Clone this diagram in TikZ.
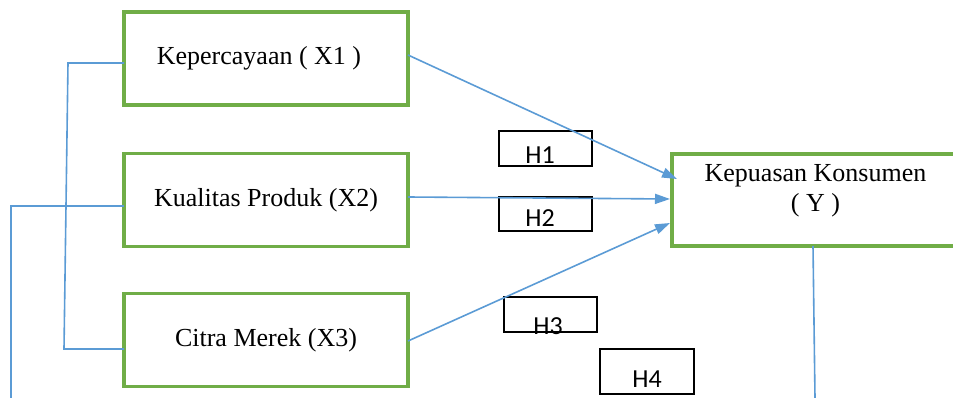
\documentclass[tikz,border=0pt]{standalone}
\usepackage{fontspec}
\setmainfont{Liberation Serif}
\newfontfamily\hfont{Carlito}
\usetikzlibrary{arrows.meta,calc}
\definecolor{boxgreen}{HTML}{70AD47}
\definecolor{lineblue}{HTML}{5B9BD5}
\begin{document}
\begin{tikzpicture}[x=1pt,y=-1pt,
  varbox/.style={draw=boxgreen,line width=3.2pt,inner sep=0pt,outer sep=0pt,minimum width=284pt,minimum height=93pt,font=\fontsize{26}{31}\selectfont},
  hbox/.style={draw=black,line width=1.8pt,inner sep=0pt,outer sep=0pt,minimum width=93pt,minimum height=35pt},
  htext/.style={font=\hfont\fontsize{26}{31}\selectfont,anchor=base,inner sep=0pt},
  conn/.style={draw=lineblue,line width=1.6pt},
  arr/.style={conn,-{Triangle[length=15pt,width=10pt]}}]
\useasboundingbox (0,0) rectangle (953,398);
\clip (0,0) rectangle (953,398);
% variable boxes
\node[varbox] (x1) at (266,58.5) {\hspace{-14pt}Kepercayaan ( X1 )};
\node[varbox] (x2) at (266,200) {Kualitas Produk (X2)};
\node[varbox] (x3) at (266,340) {Citra Merek (X3)};
\node[varbox,minimum width=287pt,minimum height=92pt] (y) at (815.5,200) {};
\node[font=\fontsize{26}{31}\selectfont,align=center,anchor=base] (ytext) at (815.5,212) {Kepuasan Konsumen\\( Y )};
% hypothesis boxes
\node[hbox] (h1) at (545.5,148.5) {};
\node[htext] (h1t) at (540,164) {H1};
\node[hbox,minimum height=34pt] (h2) at (545.5,214) {};
\node[htext] (h2t) at (540,227) {H2};
\node[hbox] (h3) at (550.5,314.5) {};
\node[htext] (h3t) at (548,334) {H3};
\node[hbox,minimum width=94pt,minimum height=45pt] (h4) at (647,371.5) {};
\node[htext] (h4t) at (647,387) {H4};
% arrows
\coordinate (a1s) at (408,55);
\coordinate (a1e) at (677,179);
\coordinate (a2s) at (408,197);
\coordinate (a2e) at (670,199);
\coordinate (a3s) at (408,341);
\coordinate (a3e) at (670,223);
\draw[arr] (a1s) -- (a1e);
\draw[arr] (a2s) -- (a2e);
\draw[arr] (a3s) -- (a3e);
% left bracket
\coordinate (b1) at (68,63);
\coordinate (b2) at (64,349);
\coordinate (b3) at (11,206);
\coordinate (b4) at (11,398);
\draw[conn] (x1.west |- b1) -- (b1) -- (b2) -- (x3.west |- b2);
\draw[conn] (x2.west |- b3) -- (b3) -- (b4);
% line from Y
\coordinate (yb) at (815,398);
\draw[conn] (813,246) -- (yb);
\end{tikzpicture}
\end{document}
